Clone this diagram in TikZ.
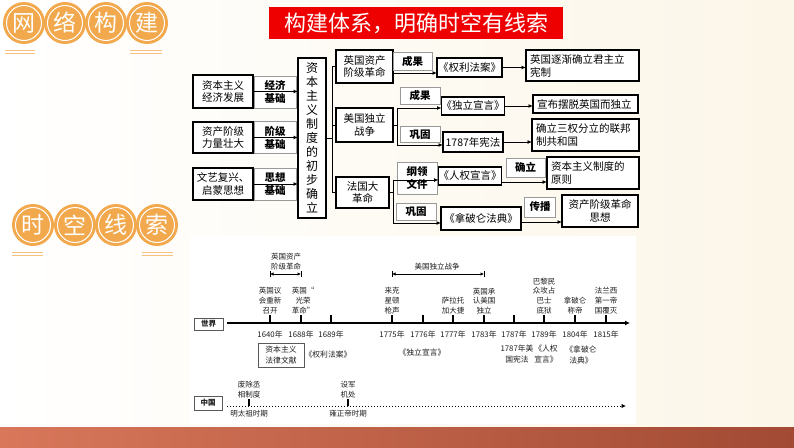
\documentclass[tikz,border=0pt]{standalone}
\usepackage{fontspec}
\setmainfont{Noto Sans CJK SC}
\usetikzlibrary{arrows.meta}
\definecolor{cream}{HTML}{FCF6E8}
\definecolor{circ}{HTML}{F2A84C}
\definecolor{titlered}{HTML}{EE0000}
\definecolor{bandL}{HTML}{D8775A}
\definecolor{bandR}{HTML}{A24A34}
\definecolor{tl}{HTML}{1E1E1E}
\begin{document}
\begin{tikzpicture}[x=1pt,y=-1pt,
  every node/.style={inner sep=0pt,outer sep=0pt},
  mainbox/.style={draw=black,line width=1.4pt,fill=white,align=center,font=\fontsize{10.5}{12.5}\selectfont},
  lab/.style={draw=gray!80,line width=0.7pt,fill=white,align=center,font=\bfseries\fontsize{10.5}{13}\selectfont},
  doc/.style={draw=black,line width=1.2pt,fill=white,align=center,font=\fontsize{10.5}{12.5}\selectfont},
  res/.style={draw=black,line width=1.4pt,fill=white,align=left,inner xsep=4pt,font=\fontsize{10.5}{13}\selectfont},
  conn/.style={line width=1pt},
  arr/.style={line width=1pt,-{Latex[length=4.5pt,width=4pt]}},
  hc/.style={text=white,font=\fontsize{23}{23}\selectfont},
  ev/.style={align=center,text=tl,font=\fontsize{7.5}{9.7}\selectfont},
  yr/.style={text=tl,font=\fontsize{7.8}{9}\selectfont},
  tag/.style={draw=gray!70!black,line width=0.8pt,fill=white,text=tl,font=\bfseries\fontsize{7.5}{9}\selectfont},
]
\useasboundingbox (0,0) rectangle (794,447);
\shade[left color=white,right color=cream] (0,0) rectangle (794,447);
% bottom band
\shade[left color=bandL,right color=bandR] (0,427) rectangle (794,447);
% timeline panel
\fill[white] (190,236) rectangle (636,424);

% header circles
\foreach \x/\c [count=\i] in {24/网,65/络,106/构,147/建} {
  \fill[circ] (\x,23) circle (21pt);
  \draw[white,line width=1pt] (\x,23) circle (17.5pt);
  \node[hc] (ha\i) at (\x,23) {\c};
}
\draw[circ!70,line width=0.8pt] (5,50)--(35,50) (5,53)--(35,53) (130,50)--(162,50) (130,53)--(162,53);
\foreach \x/\c [count=\i] in {33/时,75/空,116/线,157/索} {
  \fill[circ] (\x,225) circle (21pt);
  \draw[white,line width=1pt] (\x,225) circle (17.5pt);
  \node[hc] (hb\i) at (\x,225) {\c};
}
\draw[circ!70,line width=0.8pt] (12,252)--(43,252) (12,255)--(43,255) (142,252)--(173,252) (142,255)--(173,255);

% title
\node[fill=titlered,minimum width=294pt,minimum height=32pt,text=white,font=\fontsize{22}{22}\selectfont] (title) at (416,23) {构建体系，明确时空有线索};

% ---------- network ----------
\node[mainbox,minimum width=60pt,minimum height=33pt] (b1) at (223,91.5) {资本主义\\经济发展};
\node[mainbox,minimum width=60pt,minimum height=31pt] (b2) at (223,137.5) {资产阶级\\力量壮大};
\node[mainbox,minimum width=60pt,minimum height=32pt] (b3) at (223,184) {文艺复兴、\\启蒙思想};
\node[lab,minimum width=42pt,minimum height=32pt] (l1) at (275,92) {经济\\基础};
\node[lab,minimum width=42pt,minimum height=32pt] (l2) at (275,137.5) {阶级\\基础};
\node[lab,minimum width=42pt,minimum height=32pt] (l3) at (275,184) {思想\\基础};
\node[mainbox,minimum width=28pt,minimum height=160pt,font=\fontsize{12}{14}\selectfont] (V) at (312,138) {资\\本\\主\\义\\制\\度\\的\\初\\步\\确\\立};
\draw[arr] (b1.east) -- (b1.east -| V.west);
\draw[arr] (b2.east) -- (b2.east -| V.west);
\draw[arr] (b3.east) -- (b3.east -| V.west);

\node[mainbox,minimum width=57pt,minimum height=33pt] (e1) at (364.5,66.5) {英国资产\\阶级革命};
\node[mainbox,minimum width=57pt,minimum height=34pt] (e2) at (364.5,125) {美国独立\\战争};
\node[mainbox,minimum width=53pt,minimum height=31pt] (e3) at (362.5,192.5) {法国大\\革命};

\coordinate (k1) at (332,138);
\draw[conn] (V.east |- k1) -- (k1);
\draw[conn] (k1 |- e1.west) -- (k1 |- e3.west);
\draw[conn] (k1 |- e1.west) -- (e1.west);
\draw[conn] (k1 |- e2.west) -- (e2.west);
\draw[conn] (k1 |- e3.west) -- (e3.west);

% labels
\node[lab,minimum width=39pt,minimum height=18pt] (r1) at (412.5,61) {成果};
\node[lab,minimum width=40pt,minimum height=17pt] (r2) at (420,95.5) {成果};
\node[lab,minimum width=40pt,minimum height=16pt] (r3) at (420,134.5) {巩固};
\node[lab,minimum width=40pt,minimum height=32pt] (r4) at (417,178) {纲领\\文件};
\node[lab,minimum width=39pt,minimum height=19pt] (r5) at (525.5,167.5) {确立};
\node[lab,minimum width=40pt,minimum height=17pt] (r6) at (416,211.5) {巩固};
\node[lab,minimum width=31pt,minimum height=20pt] (r7) at (540,207) {传播};

% documents
\node[doc,minimum width=65pt,minimum height=19pt] (d1) at (469.5,67.5) {《权利法案》};
\node[doc,minimum width=60pt,minimum height=18pt] (d2) at (473,106) {《独立宣言》};
\node[doc,minimum width=60pt,minimum height=20pt] (d3) at (473,142) {1787年宪法};
\node[doc,minimum width=60pt,minimum height=18pt] (d4) at (470,176) {《人权宣言》};
\node[doc,minimum width=80pt,minimum height=23pt] (d5) at (481,218.5) {《拿破仑法典》};

% results
\node[res,text width=105pt,minimum height=31pt] (f1) at (582.5,65.5) {英国逐渐确立君主立\\宪制};
\node[res,text width=97pt,minimum height=18pt] (f2) at (585.5,104) {宣布摆脱英国而独立};
\node[res,text width=99pt,minimum height=32pt] (f3) at (585.5,135) {确立三权分立的联邦\\制共和国};
\node[res,text width=84pt,minimum height=32pt] (f4) at (593,173) {资本主义制度的\\原则};
\node[mainbox,minimum width=76pt,minimum height=32pt] (f5) at (600,211) {资产阶级革命\\思想};

% arrows
\coordinate (k0) at (393,73);
\draw[arr] (k0) -- (k0 -| d1.west);
\coordinate (k2t) at (397,108); \coordinate (k2b) at (397,145);
\draw[conn] (e2.east) -- (e2.east -| k2t);
\draw[conn] (k2t) -- (k2b);
\draw[arr] (k2t) -- (k2t -| d2.west);
\draw[arr] (k2b) -- (k2b -| d3.west);
\coordinate (k3t) at (393,180); \coordinate (k3b) at (393,223);
\draw[conn] (e3.east) -- (e3.east -| k3t);
\draw[conn] (k3t) -- (k3b);
\draw[arr] (k3t) -- (k3t -| d4.west);
\draw[arr] (k3b) -- (k3b -| d5.west);
\draw[arr] (d1.east) -- (d1.east -| f1.west);
\draw[arr] (d2.east) -- (d2.east -| f2.west);
\draw[arr] (d3.east) -- (d3.east -| f3.west);
\coordinate (k4) at ([yshift=-6pt]d4.east);
\draw[arr] (k4) -- (k4 -| f4.west);
\coordinate (k5) at ([yshift=-3.5pt]d5.east);
\draw[arr] (k5) -- (k5 -| f5.west);

% ---------- world timeline ----------
\node[tag,minimum width=29pt,minimum height=12pt] (world) at (208.5,324) {世界};
\coordinate (ws) at (227,323); \coordinate (we) at (630,323);
\draw[line width=1.3pt,-{Latex[length=5pt,width=5pt]}] (ws) -- (we);
\foreach \x/\y in {270/1640,301/1688,331/1689,392/1775,423/1776,453/1777,484/1783,514/1787,544/1789,575/1804,606/1815} {
  \draw[line width=1.2pt] (\x,315) -- (\x,323);
  \node[yr] at (\x,335) {\y 年};
}
\node[ev,anchor=south] (ev1) at (270,314) {英国议\\会重新\\召开};
\node[ev,anchor=south] (ev2) at (303,314) {英国“\\光荣\\革命”};
\node[ev,anchor=south] (ev3) at (392,314) {来克\\星顿\\枪声};
\node[ev,anchor=south] (ev4) at (453,314) {萨拉托\\加大捷};
\node[ev,anchor=south] (ev5) at (484,314) {英国承\\认美国\\独立};
\node[ev,anchor=south] (ev6) at (544,314) {巴黎民\\众攻占\\巴士\\底狱};
\node[ev,anchor=south] (ev7) at (575,314) {拿破仑\\称帝};
\node[ev,anchor=south] (ev8) at (606,314) {法兰西\\第一帝\\国覆灭};

% ranges
\node[ev,anchor=south] (rg1) at (286,270) {英国资产\\阶级革命};
\coordinate (ra1) at (270,274); \coordinate (rb1) at (301,274);
\draw[line width=1pt,{Latex[length=3.5pt,width=3.5pt]}-{Latex[length=3.5pt,width=3.5pt]}] (ra1) -- (rb1);
\draw[line width=1pt] ([yshift=3pt]ra1) -- ([yshift=-3pt]ra1) ([yshift=3pt]rb1) -- ([yshift=-3pt]rb1);
\node[ev,anchor=south] (rg2) at (437,270) {美国独立战争};
\coordinate (ra2) at (392,274); \coordinate (rb2) at (484,274);
\draw[line width=1pt,{Latex[length=3.5pt,width=3.5pt]}-{Latex[length=3.5pt,width=3.5pt]}] (ra2) -- (rb2);
\draw[line width=1pt] ([yshift=3pt]ra2) -- ([yshift=-3pt]ra2) ([yshift=3pt]rb2) -- ([yshift=-3pt]rb2);

% documents under timeline
\node[ev,draw=gray!70!black,line width=0.8pt,minimum width=46pt,minimum height=24pt,font=\fontsize{7.8}{10.5}\selectfont] (tdoc) at (281,355) {资本主义\\法律文献};
\node[ev,font=\fontsize{7.8}{10.5}\selectfont] at (328,355) {《权利法案》};
\node[ev,font=\fontsize{7.8}{10.5}\selectfont] at (422,353) {《独立宣言》};
\node[ev,font=\fontsize{7.8}{10.5}\selectfont] at (517,354) {1787年美\\国宪法};
\node[ev,font=\fontsize{7.8}{10.5}\selectfont] at (546,354) {《人权\\宣言》};
\node[ev,font=\fontsize{7.8}{10.5}\selectfont] at (581,355) {《拿破仑\\法典》};

% ---------- China timeline ----------
\node[tag,minimum width=28pt,minimum height=14pt] (china) at (208,403) {中国};
\coordinate (cs) at (227,406); \coordinate (ce) at (626,406);
\draw[line width=1pt,dotted,-{Latex[length=4.5pt,width=4.5pt]}] (cs) -- (ce);
\draw[line width=1.2pt] (249,399) -- (249,406) (348,399) -- (348,406);
\node[ev,anchor=south] at (249,398) {废除丞\\相制度};
\node[ev,anchor=south] at (348,398) {设军\\机处};
\node[ev] at (249,414) {明太祖时期};
\node[ev] at (348,414) {雍正帝时期};
\end{tikzpicture}
\end{document}
